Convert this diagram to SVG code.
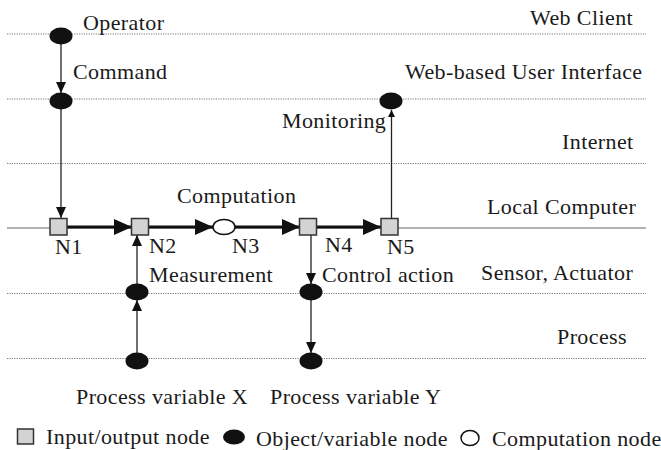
<svg xmlns="http://www.w3.org/2000/svg" width="661" height="450" viewBox="0 0 661 450">
<style>
.dot{stroke:#777;stroke-width:1;stroke-dasharray:1.2 1.2;fill:none}
.base{stroke:#666;stroke-width:1.2;fill:none}
.thin{stroke:#222;stroke-width:1.3;fill:none}
.thick{stroke:#111;stroke-width:3;fill:none}
.obj{fill:#111}
.io{fill:#d3d3d3;stroke:#333;stroke-width:1.5}
.comp{fill:#fff;stroke:#111;stroke-width:1.5}
.t{font-family:"Liberation Serif","Times New Roman",serif;font-size:22px;fill:#1a1a1a;letter-spacing:0.4px}
</style>
<defs>
<marker id="big" markerWidth="18" markerHeight="16" refX="18" refY="8" orient="auto" markerUnits="userSpaceOnUse"><path d="M0,0 L18,8 L0,16 Z" fill="#111"/></marker>
<marker id="sm" markerWidth="11" markerHeight="10" refX="11" refY="5" orient="auto" markerUnits="userSpaceOnUse"><path d="M0,0 L11,5 L0,10 Z" fill="#111"/></marker>
<marker id="xs" markerWidth="7" markerHeight="7" refX="7" refY="3.5" orient="auto" markerUnits="userSpaceOnUse"><path d="M0,0 L7,3.5 L0,7 Z" fill="#111"/></marker>
</defs>
<g id="layers">
<line class="dot" x1="7" y1="34" x2="646" y2="34"/>
<line class="dot" x1="7" y1="99" x2="646" y2="99"/>
<line class="dot" x1="7" y1="163.5" x2="646" y2="163.5"/>
<line class="base" x1="7" y1="228" x2="646" y2="228"/>
<line class="dot" x1="7" y1="293.5" x2="646" y2="293.5"/>
<line class="dot" x1="7" y1="358.5" x2="646" y2="358.5"/>
<g class="t">
<text x="530" y="25">Web Client</text>
<text x="405" y="79">Web-based User Interface</text>
<text x="562" y="149">Internet</text>
<text x="487" y="214">Local Computer</text>
<text x="481" y="280">Sensor, Actuator</text>
<text x="557" y="344">Process</text>
</g>
</g>
<g id="connectors">
<line class="thin" x1="61" y1="44" x2="61" y2="93" marker-end="url(#sm)"/>
<line class="thin" x1="61" y1="109" x2="61" y2="218" marker-end="url(#sm)"/>
<line class="thick" x1="67" y1="227" x2="132" y2="227" marker-end="url(#big)"/>
<line class="thick" x1="148" y1="227" x2="213" y2="227" marker-end="url(#big)"/>
<line class="thick" x1="235" y1="227" x2="300" y2="227" marker-end="url(#big)"/>
<line class="thick" x1="317" y1="227" x2="381" y2="227" marker-end="url(#big)"/>
<line class="thin" x1="137" y1="284" x2="137" y2="235" marker-end="url(#sm)"/>
<line class="thin" x1="137" y1="353" x2="137" y2="300" marker-end="url(#sm)"/>
<line class="thin" x1="311" y1="235" x2="311" y2="284" marker-end="url(#sm)"/>
<line class="thin" x1="311" y1="300" x2="311" y2="353" marker-end="url(#sm)"/>
<line class="thin" x1="391.5" y1="218" x2="391.5" y2="110" marker-end="url(#xs)"/>
</g>
<g class="t">
<g id="operator"><ellipse class="obj" cx="61" cy="36" rx="11.5" ry="8.5"/><text x="83" y="30">Operator</text></g>
<g id="command"><ellipse class="obj" cx="61" cy="101" rx="11.5" ry="8.5"/><text x="73" y="79">Command</text></g>
<g id="monitoring"><ellipse class="obj" cx="391" cy="101" rx="11.5" ry="8.5"/><text x="282" y="128">Monitoring</text></g>
<g id="n1"><rect class="io" x="50" y="218.5" width="17" height="16.5"/><text x="55" y="254">N1</text></g>
<g id="n2"><rect class="io" x="131.5" y="218.5" width="17" height="16.5"/><text x="149" y="253">N2</text></g>
<g id="n3"><ellipse class="comp" cx="224" cy="227" rx="11" ry="7.5"/><text x="232" y="253">N3</text><text x="177" y="203">Computation</text></g>
<g id="n4"><rect class="io" x="299.5" y="218.5" width="17" height="16.5"/><text x="325" y="252">N4</text></g>
<g id="n5"><rect class="io" x="381" y="218.5" width="17" height="16.5"/><text x="387" y="254">N5</text></g>
<g id="measurement"><ellipse class="obj" cx="137" cy="292" rx="11.5" ry="8.5"/><text x="149" y="282">Measurement</text></g>
<g id="control-action"><ellipse class="obj" cx="311" cy="292" rx="11.5" ry="8.5"/><text x="322" y="282">Control action</text></g>
<g id="process-x"><ellipse class="obj" cx="137" cy="361" rx="11.5" ry="8.5"/><text x="76" y="404">Process variable X</text></g>
<g id="process-y"><ellipse class="obj" cx="311" cy="361" rx="11.5" ry="8.5"/><text x="270" y="404">Process variable Y</text></g>
<g id="legend">
<rect class="io" x="17.5" y="429" width="16" height="15"/>
<text x="46" y="444">Input/output node</text>
<ellipse class="obj" cx="234" cy="437" rx="11" ry="7.5"/>
<text x="256" y="446">Object/variable node</text>
<ellipse class="comp" cx="470" cy="438" rx="9" ry="7.5"/>
<text x="492" y="446">Computation node</text>
</g>
</g>
</svg>
